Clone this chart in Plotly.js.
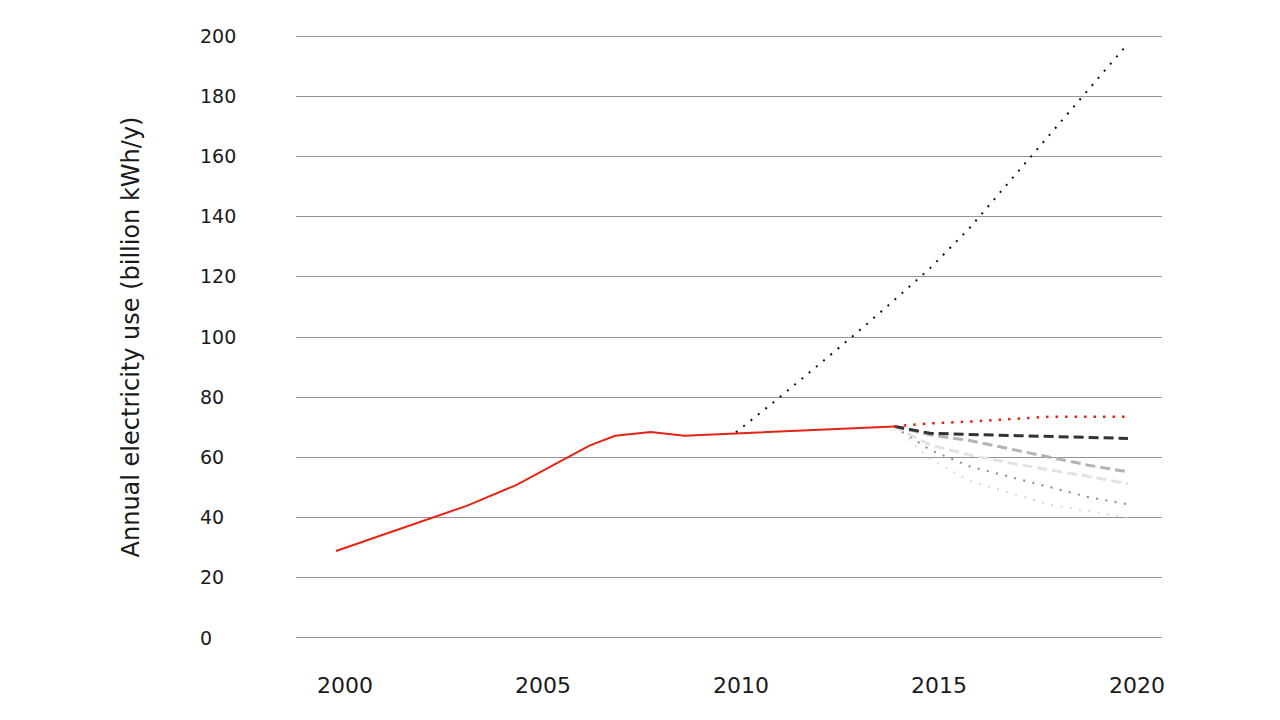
<!DOCTYPE html>
<html>
<head>
<meta charset="utf-8">
<script src="https://cdn.plot.ly/plotly-3.0.1.min.js"></script>
<style>html,body{margin:0;padding:0;background:#fff;}</style>
</head>
<body>
<div id="chart" style="width:1280px;height:720px;"></div>
<script>
// Historical electricity use
const histYears  = [2000, 2003.3, 2004.55, 2006.4, 2007.05, 2007.95, 2008.8, 2014.1];
const histValues = [28.9, 43.9, 50.8, 63.9, 67.2, 68.4, 67.2, 70.3];

// Early high-growth projection (from 2010)
const highYears  = [2010.1, 2011, 2012, 2013, 2014, 2015, 2016, 2017, 2018, 2019, 2020];
const highValues = [68.3, 77.8, 88.7, 99.7, 111.1, 122.8, 136.2, 151.5, 167.1, 182.2, 197.5];

// Scenario projections (from 2014)
const projYears     = [2014.1, 2015, 2016, 2017, 2018, 2019, 2020];
const currentTrends = [70.3, 71.3, 71.9, 72.8, 73.5, 73.5, 73.5];
const scenarioA     = [70.3, 68.0, 67.6, 67.3, 67.0, 66.7, 66.3];
const scenarioB     = [70.3, 67.5, 65.6, 62.8, 60.1, 57.4, 55.2];
const scenarioC     = [70.3, 64.1, 60.8, 58.2, 55.9, 53.7, 51.2];
const scenarioD     = [70.3, 62.5, 57.0, 53.6, 50.3, 46.8, 44.4];
const scenarioE     = [70.3, 59.5, 52.2, 48.3, 44.3, 42.2, 39.8];

const xTicks = [2000, 2005, 2010, 2015, 2020];
const yTitle = "Annual electricity use (billion kWh/y)";

const line = (x, y, color, width, dash, name) => ({
  type: 'scatter', mode: 'lines', x: x, y: y, name: name,
  line: {color: color, width: width, dash: dash, shape: 'linear'},
  hoverinfo: 'x+y'
});

const traces = [
  line(highYears, highValues, '#111111', 2, '2px,7.4px', 'High growth'),
  line(projYears, scenarioE, '#dadada', 2, '2px,7.4px', 'Scenario E'),
  line(projYears, scenarioD, '#8a8a8a', 2, '2px,7.4px', 'Scenario D'),
  line(projYears, scenarioC, '#e2e2e2', 3, '10px,5px', 'Scenario C'),
  line(projYears, scenarioB, '#b4b4b4', 3, '10px,5px', 'Scenario B'),
  line(projYears, scenarioA, '#333333', 3, '10px,5px', 'Scenario A'),
  line(projYears, currentTrends, '#e52413', 2.5, '2.5px,7px', 'Current trends'),
  line(histYears, histValues, '#e52413', 2, 'solid', 'Historical')
];

const layout = {
  width: 1280, height: 720,
  paper_bgcolor: '#ffffff', plot_bgcolor: '#ffffff',
  showlegend: false,
  margin: {l: 100, r: 118, t: 35, b: 81, pad: 0, autoexpand: false},
  font: {family: 'DejaVu Sans, sans-serif', color: '#1a1a1a'},
  xaxis: {
    domain: [0.18456, 1],
    range: [1998.99, 2020.86],
    tickmode: 'array', tickvals: xTicks, ticktext: xTicks.map(String),
    showgrid: false, zeroline: false, showline: false, ticks: '',
    ticklabelshift: 9, ticklabelstandoff: 31,
    tickfont: {family: 'DejaVu Sans, sans-serif', size: 22, color: '#1a1a1a'},
    automargin: false
  },
  yaxis: {
    range: [-0.35, 200.35],
    tick0: 0, dtick: 20,
    anchor: 'free', position: 0.0904,
    ticklabelposition: 'inside', ticklabeloverflow: 'allow',
    showgrid: true, gridcolor: '#949494', gridwidth: 1,
    zeroline: false, showline: false, ticks: '',
    tickfont: {family: 'DejaVu Sans, sans-serif', size: 19, color: '#1a1a1a'},
    title: {text: yTitle, font: {family: 'DejaVu Sans, sans-serif', size: 24, color: '#1a1a1a'}, standoff: 52},
    automargin: false
  }
};

Plotly.newPlot('chart', traces, layout, {displayModeBar: false, staticPlot: true});
</script>
</body>
</html>
